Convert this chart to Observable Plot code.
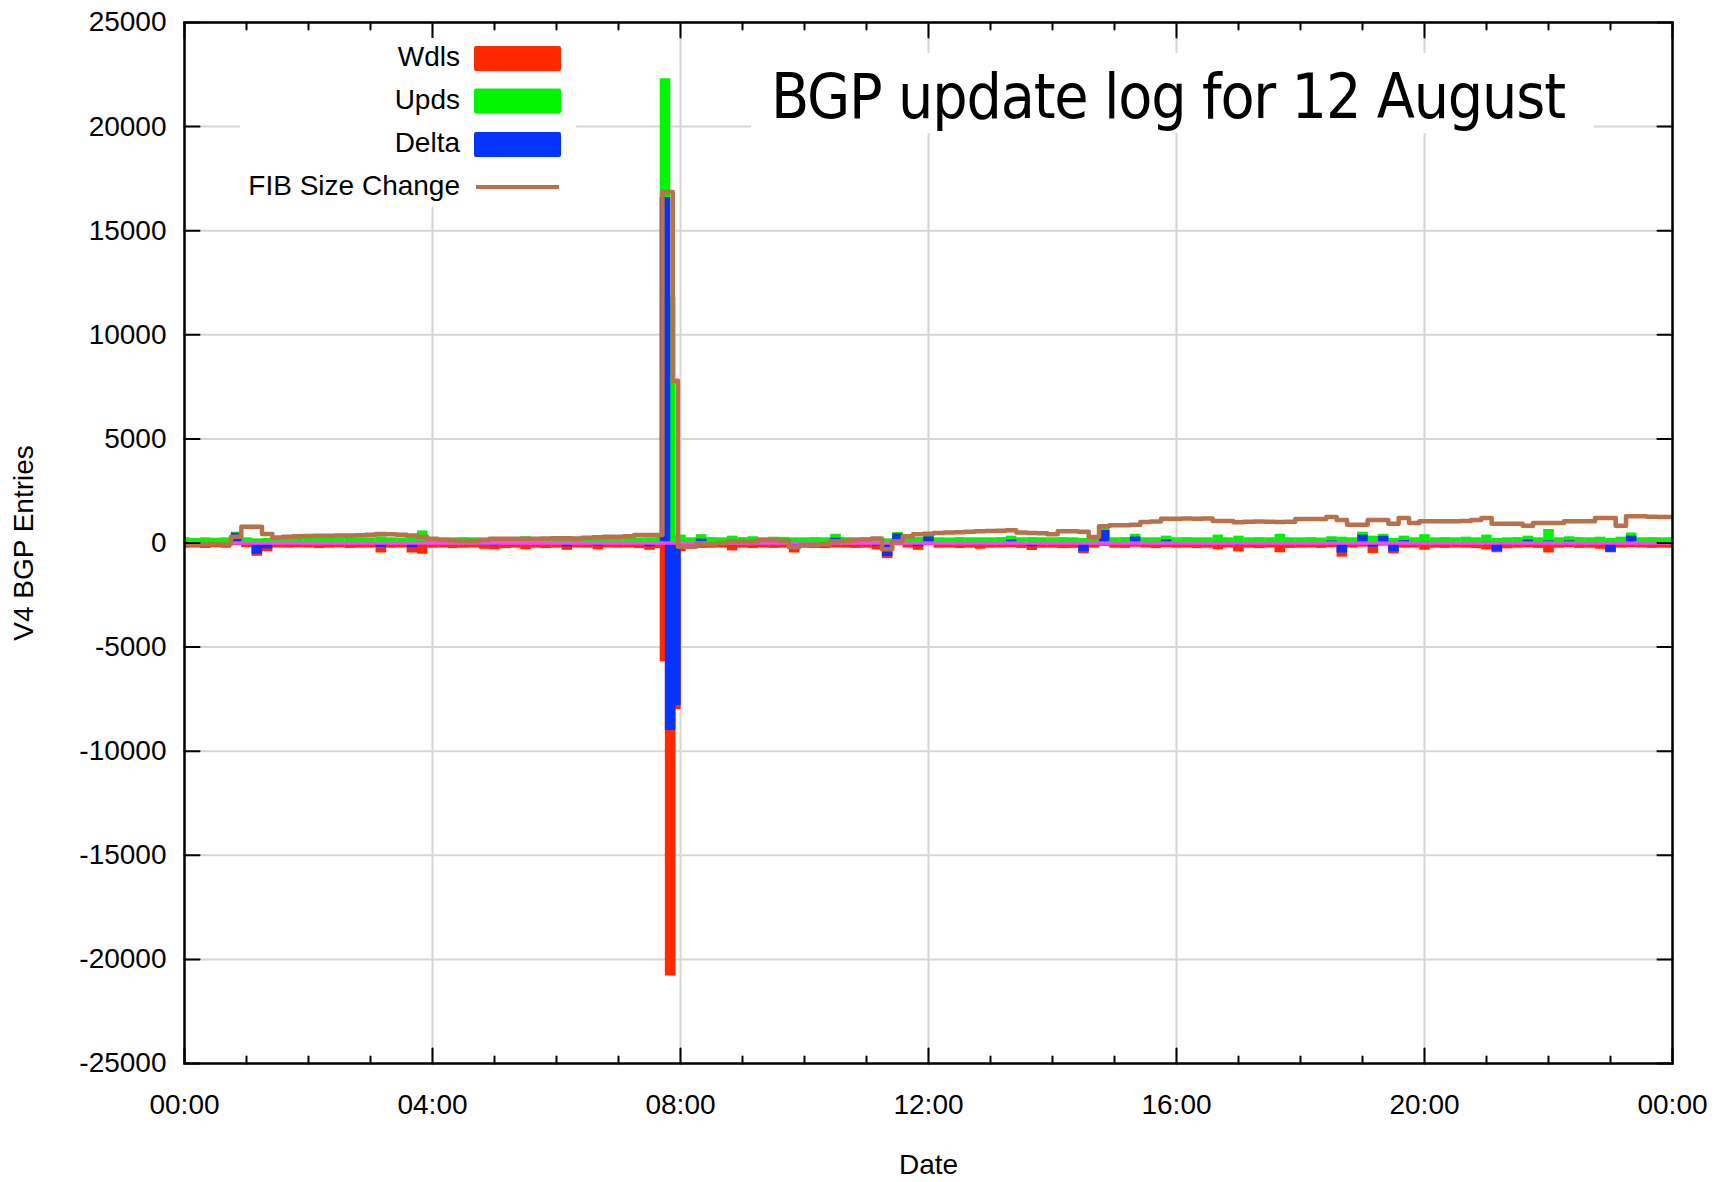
<!DOCTYPE html>
<html><head><meta charset="utf-8">
<script src="https://cdn.jsdelivr.net/npm/d3@7"></script>
<script src="https://cdn.jsdelivr.net/npm/@observablehq/plot@0.6"></script>
<style>html,body{margin:0;padding:0;background:#fff;overflow:hidden} svg{display:block}</style>
</head><body><div id="chart"></div>
<script>
// ---- data ----
const times = [
"00:00","00:10","00:20","00:30","00:40","00:50",
"01:00","01:10","01:20","01:30","01:40","01:50",
"02:00","02:10","02:20","02:30","02:40","02:50",
"03:00","03:10","03:20","03:30","03:40","03:50",
"04:00","04:10","04:20","04:30","04:40","04:50",
"05:00","05:10","05:20","05:30","05:40","05:50",
"06:00","06:10","06:20","06:30","06:40","06:50",
"07:00","07:10","07:20","07:30","07:40","07:45","07:50","07:55",
"08:00","08:10","08:20","08:30","08:40","08:50",
"09:00","09:10","09:20","09:30","09:40","09:50",
"10:00","10:10","10:20","10:30","10:40","10:50",
"11:00","11:10","11:20","11:30","11:40","11:50",
"12:00","12:10","12:20","12:30","12:40","12:50",
"13:00","13:10","13:20","13:30","13:40","13:50",
"14:00","14:10","14:20","14:30","14:40","14:50",
"15:00","15:10","15:20","15:30","15:40","15:50",
"16:00","16:10","16:20","16:30","16:40","16:50",
"17:00","17:10","17:20","17:30","17:40","17:50",
"18:00","18:10","18:20","18:30","18:40","18:50",
"19:00","19:10","19:20","19:30","19:40","19:50",
"20:00","20:10","20:20","20:30","20:40","20:50",
"21:00","21:10","21:20","21:30","21:40","21:50",
"22:00","22:10","22:20","22:30","22:40","22:50",
"23:00","23:10","23:20","23:30","23:40","23:50",
"24:00"];

const upds = [
250,220,250,230,250,520,
250,200,220,250,230,250,
250,260,240,250,270,250,
250,300,250,240,300,580,
250,240,250,260,250,240,
250,260,240,300,250,240,
250,250,240,260,250,230,
250,260,240,250,260,22300,11800,250,
380,250,400,260,250,330,
260,300,250,280,270,250,
250,260,250,420,260,250,
250,260,200,500,250,260,
380,250,240,260,250,250,
250,260,330,250,260,250,
250,260,250,220,250,700,
250,260,420,250,250,330,
250,260,250,250,380,250,
330,250,260,250,420,250,
250,260,240,300,280,250,
520,330,420,220,330,250,
400,250,260,250,280,250,
380,220,250,260,330,250,
650,250,300,260,250,280,
220,280,480,250,260,250,
250];

const wdls = [
-250,-240,-260,-230,-250,-120,
-220,-640,-420,-240,-250,-230,
-240,-270,-250,-230,-260,-250,
-240,-480,-250,-240,-480,-540,
-250,-240,-270,-250,-240,-300,
-320,-270,-250,-320,-250,-270,
-250,-350,-240,-250,-330,-240,
-250,-240,-270,-350,-270,-5700,-20800,-8000,
-420,-240,-260,-250,-240,-380,
-250,-270,-240,-260,-250,-480,
-250,-260,-270,-240,-250,-260,
-250,-330,-750,-120,-240,-350,
-120,-250,-240,-270,-250,-300,
-250,-240,-220,-260,-360,-250,
-250,-270,-260,-520,-250,-160,
-250,-260,-200,-240,-270,-220,
-250,-240,-270,-250,-330,-240,
-430,-250,-270,-240,-470,-260,
-250,-240,-260,-220,-680,-240,
-200,-500,-150,-520,-250,-240,
-350,-250,-260,-240,-250,-270,
-330,-470,-280,-250,-230,-260,
-480,-250,-220,-260,-250,-300,
-470,-250,-220,-240,-260,-250,
-250];

const delta = [
-30,-50,-40,-30,-30,470,
0,-540,-280,-20,-50,-10,
-20,-40,-40,-10,-20,-30,
-20,-210,-30,-30,-230,50,
-30,-30,-50,-20,-20,-110,
-130,-40,-40,-80,-30,-60,
-30,-180,-30,-20,-150,-40,
-30,-10,-60,-180,-40,16600,-9000,-7800,
-50,-20,190,-20,-20,-50,
-20,0,-20,-10,-10,-320,
-30,-30,-50,230,-20,-40,
-30,-140,-650,440,-20,-170,
290,-30,-30,-40,-30,-100,
-30,-10,150,-40,-180,-30,
-30,-40,-40,-420,-30,600,
-30,-30,290,-20,-50,150,
-30,-10,-50,-30,50,-20,
-120,-30,-40,-20,-60,-40,
-30,-10,-50,100,-480,-20,
380,-200,320,-420,120,-20,
60,-30,-30,-20,20,-50,
50,-400,-100,-20,140,-40,
100,-30,100,-30,-30,-60,
-440,20,330,-20,-30,-30,
-30];

const fib = [
-60,-60,-60,-60,-60,300,
780,780,430,270,300,320,
340,350,350,360,360,370,
400,430,420,400,360,300,
200,160,120,100,100,150,
200,200,210,200,210,220,
230,230,220,250,280,300,
300,330,380,380,380,16860,16860,7790,
-180,-180,-60,-60,0,70,
70,70,150,150,100,-200,
-100,-80,-60,80,100,150,
170,220,-300,80,330,420,
450,480,500,520,540,560,
580,590,610,500,480,470,
420,560,560,540,290,800,
850,850,880,1010,1030,1170,
1170,1180,1170,1180,1060,1060,
1000,1020,1030,1020,1010,1020,
1150,1150,1150,1250,1100,880,
880,1100,1100,930,1200,960,
1040,1040,1040,1040,1060,1100,
1200,930,930,930,830,960,
960,960,1040,1040,1040,1200,
1200,830,1280,1280,1260,1250,
1250];

const yTicks = [-25000,-20000,-15000,-10000,-5000,0,5000,10000,15000,20000,25000];
const xLabelHours = [0,4,8,12,16,20,24];
const xMinorHours = [1,2,3,5,6,7,9,10,11,13,14,15,17,18,19,21,22,23];
const seriesNames = ["Wdls","Upds","Delta","FIB Size Change"];
const title = "BGP update log for 12 August";
const xLabel = "Date";
const yLabel = "V4 BGP Entries";

// ---- build table ----
const day0 = Date.UTC(2014, 7, 12);
const toDate = s => { const [h, m] = s.split(":").map(Number); return new Date(day0 + (h * 60 + m) * 60000); };
const hourDate = h => new Date(day0 + h * 3600000);
const rows = times.map((s, i) => ({t: toDate(s), wdls: wdls[i], upds: upds[i], delta: delta[i], fib: fib[i]}));

const C = {wdls: "#ff2a00", upds: "#00f500", delta: "#0533ff", fib: "#b8714a", zero: "#ff44ff", grid: "#d6d6d6"};
const FONT = "'Liberation Sans', Arial, Helvetica, sans-serif";
const tickShape = {draw(ctx, l) { ctx.moveTo(0, 0); ctx.lineTo(0, -l); }};
const barW = 10.6;

const plot = Plot.plot({
  width: 1729, height: 1182,
  marginLeft: 184, marginRight: 57, marginTop: 22, marginBottom: 119,
  style: {fontFamily: FONT, fontSize: "28px", color: "black", background: "white"},
  x: {type: "utc", domain: [hourDate(0), hourDate(24)]},
  y: {domain: [-25000, 25000]},
  marks: [
    Plot.gridX(xLabelHours.map(hourDate), {stroke: C.grid, strokeOpacity: 1, strokeWidth: 2}),
    Plot.gridY(yTicks, {stroke: C.grid, strokeOpacity: 1, strokeWidth: 2}),
    Plot.ruleX(rows, {x: "t", y1: 0, y2: "wdls", stroke: C.wdls, strokeWidth: barW, clip: true}),
    Plot.ruleX(rows, {x: "t", y1: 0, y2: "upds", stroke: C.upds, strokeWidth: barW, clip: true}),
    Plot.ruleX(rows, {x: "t", y1: 0, y2: "delta", stroke: C.delta, strokeWidth: barW, clip: true}),
    Plot.ruleY([0], {stroke: C.zero, strokeWidth: 3.5}),
    Plot.line(rows, {x: "t", y: "fib", curve: "step", stroke: C.fib, strokeWidth: 4.5, clip: true}),
    Plot.frame({stroke: "black", strokeWidth: 2.5}),
    // inward ticks (gnuplot style, mirrored)
    Plot.vector(yTicks, {y: d => d, frameAnchor: "left", rotate: 90, length: 15, anchor: "start", shape: tickShape, stroke: "black", strokeWidth: 2}),
    Plot.vector(yTicks, {y: d => d, frameAnchor: "right", rotate: -90, length: 15, anchor: "start", shape: tickShape, stroke: "black", strokeWidth: 2}),
    Plot.vector(xLabelHours, {x: hourDate, frameAnchor: "bottom", rotate: 0, length: 15, anchor: "start", shape: tickShape, stroke: "black", strokeWidth: 2}),
    Plot.vector(xLabelHours, {x: hourDate, frameAnchor: "top", rotate: 180, length: 15, anchor: "start", shape: tickShape, stroke: "black", strokeWidth: 2}),
    Plot.vector(xMinorHours, {x: hourDate, frameAnchor: "bottom", rotate: 0, length: 7, anchor: "start", shape: tickShape, stroke: "black", strokeWidth: 2}),
    Plot.vector(xMinorHours, {x: hourDate, frameAnchor: "top", rotate: 180, length: 7, anchor: "start", shape: tickShape, stroke: "black", strokeWidth: 2}),
    Plot.axisY({ticks: yTicks, tickSize: 0, tickPadding: 18, tickFormat: d => String(d), fontSize: 28, label: null}),
    Plot.axisX({ticks: xLabelHours.map(hourDate), tickSize: 0, tickPadding: 31, tickFormat: d3.utcFormat("%H:%M"), fontSize: 28, label: null}),
    Plot.text([yLabel], {text: d => d, frameAnchor: "left", dx: -160, rotate: -90, textAnchor: "middle", fontSize: 28}),
    Plot.text([xLabel], {text: d => d, frameAnchor: "bottom", dy: 102, lineAnchor: "middle", textAnchor: "middle", fontSize: 28})
  ]
});
document.getElementById("chart").appendChild(plot);

// ---- legend and title boxes (gnuplot key + label) ----
const svg = d3.select(plot);
const lg = svg.append("g").attr("font-family", FONT).attr("font-size", 28);
lg.append("rect").attr("x", 240).attr("y", 38).attr("width", 336).attr("height", 169).attr("fill", "white");
const rowY = [58.5, 101, 144.5, 187];
const swatchColors = [C.wdls, C.upds, C.delta];
seriesNames.forEach((name, i) => {
  lg.append("text").attr("x", 460).attr("y", rowY[i] - 2).attr("dy", "0.35em").attr("text-anchor", "end").text(name);
  if (i < 3) {
    lg.append("rect").attr("x", 474).attr("y", rowY[i] - 12.5).attr("width", 87).attr("height", 25).attr("rx", 2).attr("fill", swatchColors[i]);
  } else {
    lg.append("line").attr("x1", 476).attr("x2", 559).attr("y1", rowY[i]).attr("y2", rowY[i]).attr("stroke", C.fib).attr("stroke-width", 4);
  }
});
const tg = svg.append("g");
tg.append("rect").attr("x", 751).attr("y", 53).attr("width", 843).attr("height", 80).attr("fill", "white");
tg.append("text").attr("x", 771).attr("y", 118).attr("text-anchor", "start")
  .attr("font-family", "'Liberation Sans Narrow','DejaVu Sans Condensed','Liberation Sans',sans-serif")
  .attr("font-size", 62).attr("textLength", 795).attr("lengthAdjust", "spacing").text(title);
</script></body></html>
